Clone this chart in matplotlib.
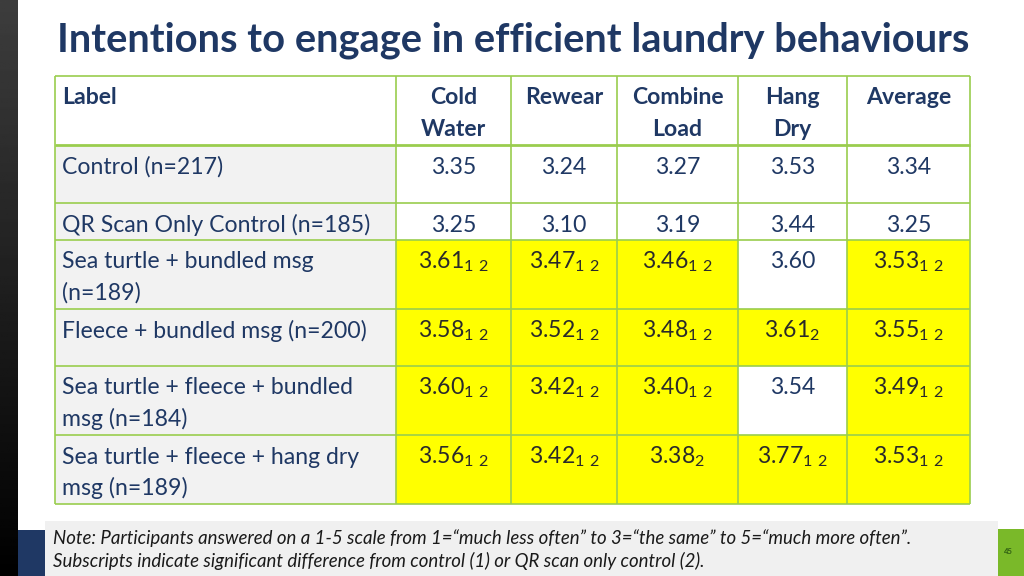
import numpy as np
import matplotlib.pyplot as plt
from matplotlib.patches import Rectangle

plt.rcParams['font.family'] = ['Lato', 'DejaVu Sans']
plt.rcParams['mathtext.fontset'] = 'custom'
plt.rcParams['mathtext.rm'] = 'Lato'
plt.rcParams['mathtext.default'] = 'rm'

# Data
title = "Intentions to engage in efficient laundry behaviours"
columns = ["Label", "Cold\nWater", "Rewear", "Combine\nLoad", "Hang\nDry", "Average"]
row_labels = [
    "Control (n=217)",
    "QR Scan Only Control (n=185)",
    "Sea turtle + bundled msg\n(n=189)",
    "Fleece + bundled msg (n=200)",
    "Sea turtle + fleece + bundled\nmsg (n=184)",
    "Sea turtle + fleece + hang dry\nmsg (n=189)",
]
cold_water = [3.35, 3.25, 3.61, 3.58, 3.60, 3.56]
rewear = [3.24, 3.10, 3.47, 3.52, 3.42, 3.42]
combine_load = [3.27, 3.19, 3.46, 3.48, 3.40, 3.38]
hang_dry = [3.53, 3.44, 3.60, 3.61, 3.54, 3.77]
average = [3.34, 3.25, 3.53, 3.55, 3.49, 3.53]
# subscripts: significant difference from control (1) / QR scan only control (2)
sig_cold = ["", "", "1 2", "1 2", "1 2", "1 2"]
sig_rewear = ["", "", "1 2", "1 2", "1 2", "1 2"]
sig_combine = ["", "", "1 2", "1 2", "1 2", "2"]
sig_hang = ["", "", "", "2", "", "1 2"]
sig_avg = ["", "", "1 2", "1 2", "1 2", "1 2"]
note_lines = [
    "Note: Participants answered on a 1-5 scale from 1=\u201cmuch less often\u201d to 3=\u201cthe same\u201d to 5=\u201cmuch more often\u201d.",
    "Subscripts indicate significant difference from control (1) or QR scan only control (2).",
]
page_number = "45"

values = [cold_water, rewear, combine_load, hang_dry, average]
sigs = [sig_cold, sig_rewear, sig_combine, sig_hang, sig_avg]

# Layout (pixels)
col_edges = [55, 396, 511, 617, 738, 847, 970]
row_edges = [76, 145, 203, 240, 309, 366, 435, 504]
line_gap = 31
navy = '#1f3864'
dark = '#2a2a2a'
green = '#9acd4e'
yellow = '#ffff00'
body_size = 16.6

fig = plt.figure(figsize=(10.24, 5.76), dpi=100)
ax = fig.add_axes([0, 0, 1, 1])

# dark side bar
ax.imshow(np.linspace(0.24, 0.0, 256).reshape(-1, 1), cmap='gray', vmin=0, vmax=1,
          extent=[0, 18, 576, 0], aspect='auto')

ax.text(57, 40, title, fontsize=28.7, fontweight='bold', color=navy, va='center', ha='left')


def put_lines(x, top, text, ha, **kw):
    for i, line in enumerate(text.split("\n")):
        ax.text(x, top + 22 + i * line_gap, line, ha=ha, va='center', fontsize=body_size, **kw)


# header
for j, col in enumerate(columns):
    x0, x1 = col_edges[j], col_edges[j + 1]
    if j == 0:
        put_lines(x0 + 7, row_edges[0], col, 'left', color=navy, fontweight='bold')
    else:
        put_lines((x0 + x1) / 2, row_edges[0], col, 'center', color=navy, fontweight='bold')

# body
for i, lab in enumerate(row_labels):
    y0, y1 = row_edges[i + 1], row_edges[i + 2]
    ax.add_patch(Rectangle((col_edges[0], y0), col_edges[1] - col_edges[0], y1 - y0,
                           fc='#f2f2f2', ec='none'))
    put_lines(col_edges[0] + 7, y0, lab, 'left', color=navy)
    for j in range(len(values)):
        x0, x1 = col_edges[j + 1], col_edges[j + 2]
        sub = sigs[j][i]
        if sub:
            ax.add_patch(Rectangle((x0, y0), x1 - x0, y1 - y0, fc=yellow, ec='none'))
            txt = f"{values[j][i]:.2f}" + "$_{" + sub.replace(" ", r"\ ") + "}$"
            col = dark
        else:
            txt = f"{values[j][i]:.2f}"
            col = navy
        put_lines((x0 + x1) / 2, y0, txt, 'center', color=col)

# grid lines
for k, y in enumerate(row_edges):
    ax.plot([col_edges[0], col_edges[-1]], [y, y], color=green, lw=2.0 if k == 1 else 1.2,
            solid_capstyle='butt')
for x in col_edges:
    ax.plot([x, x], [row_edges[0], row_edges[-1]], color=green, lw=1.2, solid_capstyle='butt')

# footer
ax.add_patch(Rectangle((18, 530), 60, 46, fc=navy, ec='none'))
ax.add_patch(Rectangle((998, 529), 26, 47, fc='#7ab929', ec='none'))
ax.add_patch(Rectangle((45, 521), 953, 55, fc='#f0f0f0', ec='none'))
for i, line in enumerate(note_lines):
    ax.text(53, 538 + i * 23, line, fontsize=13.4, style='italic', color='#1a1a1a',
            va='center', ha='left')
ax.text(1004, 552, page_number, fontsize=5.5, fontweight='bold', color='#2e5e12',
        va='center', ha='left')

ax.set_xlim(0, 1024)
ax.set_ylim(576, 0)
ax.axis('off')
fig.savefig('out.png', dpi=100)
